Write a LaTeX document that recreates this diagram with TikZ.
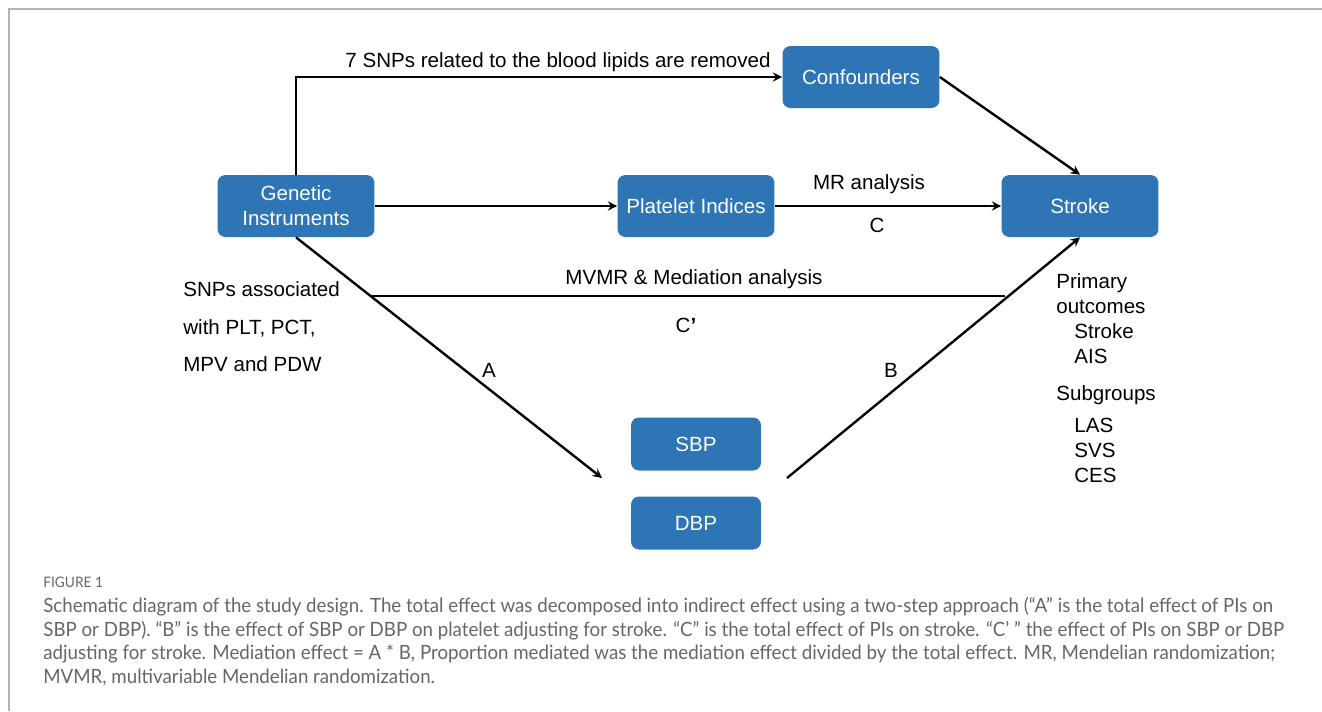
\documentclass[tikz,border=0pt]{standalone}
\usepackage{fontspec}
\setmainfont{Liberation Sans}
\newfontfamily\capfont[FakeStretch=0.95]{Lato}
\usetikzlibrary{shapes.geometric, arrows, positioning, calc}
\definecolor{boxblue}{HTML}{2E75B6}
\definecolor{framegray}{HTML}{B3B3B3}
\definecolor{capgray}{HTML}{666666}
\tikzset{
  bigbox/.style={rectangle, rounded corners=4.5pt, minimum width=3.14cm, minimum height=1.24cm,
                 text centered, fill=boxblue, text=white, align=center,
                 font=\fontsize{11.7}{14.2}\selectfont},
  smallbox/.style={rectangle, rounded corners=4.5pt, minimum width=2.6cm, minimum height=1.06cm,
                 text centered, fill=boxblue, text=white, font=\fontsize{11.7}{14.2}\selectfont},
  arrow/.style={line width=1.35pt, ->, >=stealth},
  plain/.style={line width=1.35pt},
  lbl/.style={font=\fontsize{11.7}{14}\selectfont, anchor=base, inner sep=0pt},
  lblw/.style={lbl, anchor=base west},
  capline/.style={font=\capfont\fontsize{11.2}{13}\selectfont, text=capgray, anchor=base west, inner sep=0pt}
}
\begin{document}
\begin{tikzpicture}[x=0.02cm, y=-0.02cm]
  \useasboundingbox (0,0) rectangle (1322,711);
  \draw [framegray, line width=1.1pt] (9,711) -- (9,9) -- (1322,9);

  \node (gi) [bigbox] at (296,206) {Genetic\\Instruments};
  \node (pi) [bigbox] at (696,206) {Platelet Indices};
  \node (stroke) [bigbox] at (1080,206) {Stroke};
  \node (conf) [bigbox] at (861,77) {Confounders};
  \node (sbp) [smallbox] at (696,444) {SBP};
  \node (dbp) [smallbox] at (696,523) {DBP};

  \coordinate (aend) at (602,478);
  \coordinate (bstart) at (787,478);
  \coordinate (mvl) at (372,296);
  \coordinate (mvr) at (1005,296);

  \draw [arrow] (gi.north) |- (conf.west);
  \draw [arrow] (gi) -- (pi);
  \draw [arrow] (pi) -- (stroke);
  \draw [arrow] (conf.east) -- (stroke.north);
  \draw [arrow] (gi.south) -- (aend);
  \draw [arrow] (bstart) -- (stroke.south);
  \draw [plain] (mvl) -- (mvr);

  \node (lsnp) [lbl] at (558,67) {7 SNPs related to the blood lipids are removed};
  \node (lmr) [lbl] at (869,189) {MR analysis};
  \node (lc) [lbl] at (877,232) {C};
  \node (lmv) [lbl] at (694,284) {MVMR \& Mediation analysis};
  \node (lcp) [lbl] at (686,332) {C\textbf{’}};
  \node (la) [lbl] at (489,377) {A};
  \node (lb) [lbl] at (891,377) {B};

  \node (s1) [lblw] at (183,296) {SNPs associated};
  \node (s2) [lblw] at (183,334) {with PLT, PCT,};
  \node (s3) [lblw] at (183,371) {MPV and PDW};

  \node (o1) [lblw] at (1056,288) {Primary};
  \node (o2) [lblw] at (1056,313) {outcomes};
  \node (o3) [lblw] at (1074,338) {Stroke};
  \node (o4) [lblw] at (1074,363) {AIS};
  \node (o5) [lblw] at (1056,400) {Subgroups};
  \node (o6) [lblw] at (1074,432) {LAS};
  \node (o7) [lblw] at (1074,457) {SVS};
  \node (o8) [lblw] at (1074,482) {CES};

  % caption
  \node (fig) [capline, font=\capfont\fontsize{8.2}{10}\selectfont] at (43,587) {FIGURE 1};
  \foreach \i/\yy/\t in {1/612/{Schematic diagram of the study design. The total effect was decomposed into indirect effect using a two-step approach (“A” is the total effect of PIs on},
                       2/636/{SBP or DBP). “B” is the effect of SBP or DBP on platelet adjusting for stroke. “C” is the total effect of PIs on stroke. “C’ ” the effect of PIs on SBP or DBP},
                       3/659/{adjusting for stroke. Mediation effect = A * B, Proportion mediated was the mediation effect divided by the total effect. MR, Mendelian randomization;},
                       4/683/{MVMR, multivariable Mendelian randomization.}}
    \node (cap\i) [capline] at (43,\yy) {\t};
\end{tikzpicture}
\end{document}
